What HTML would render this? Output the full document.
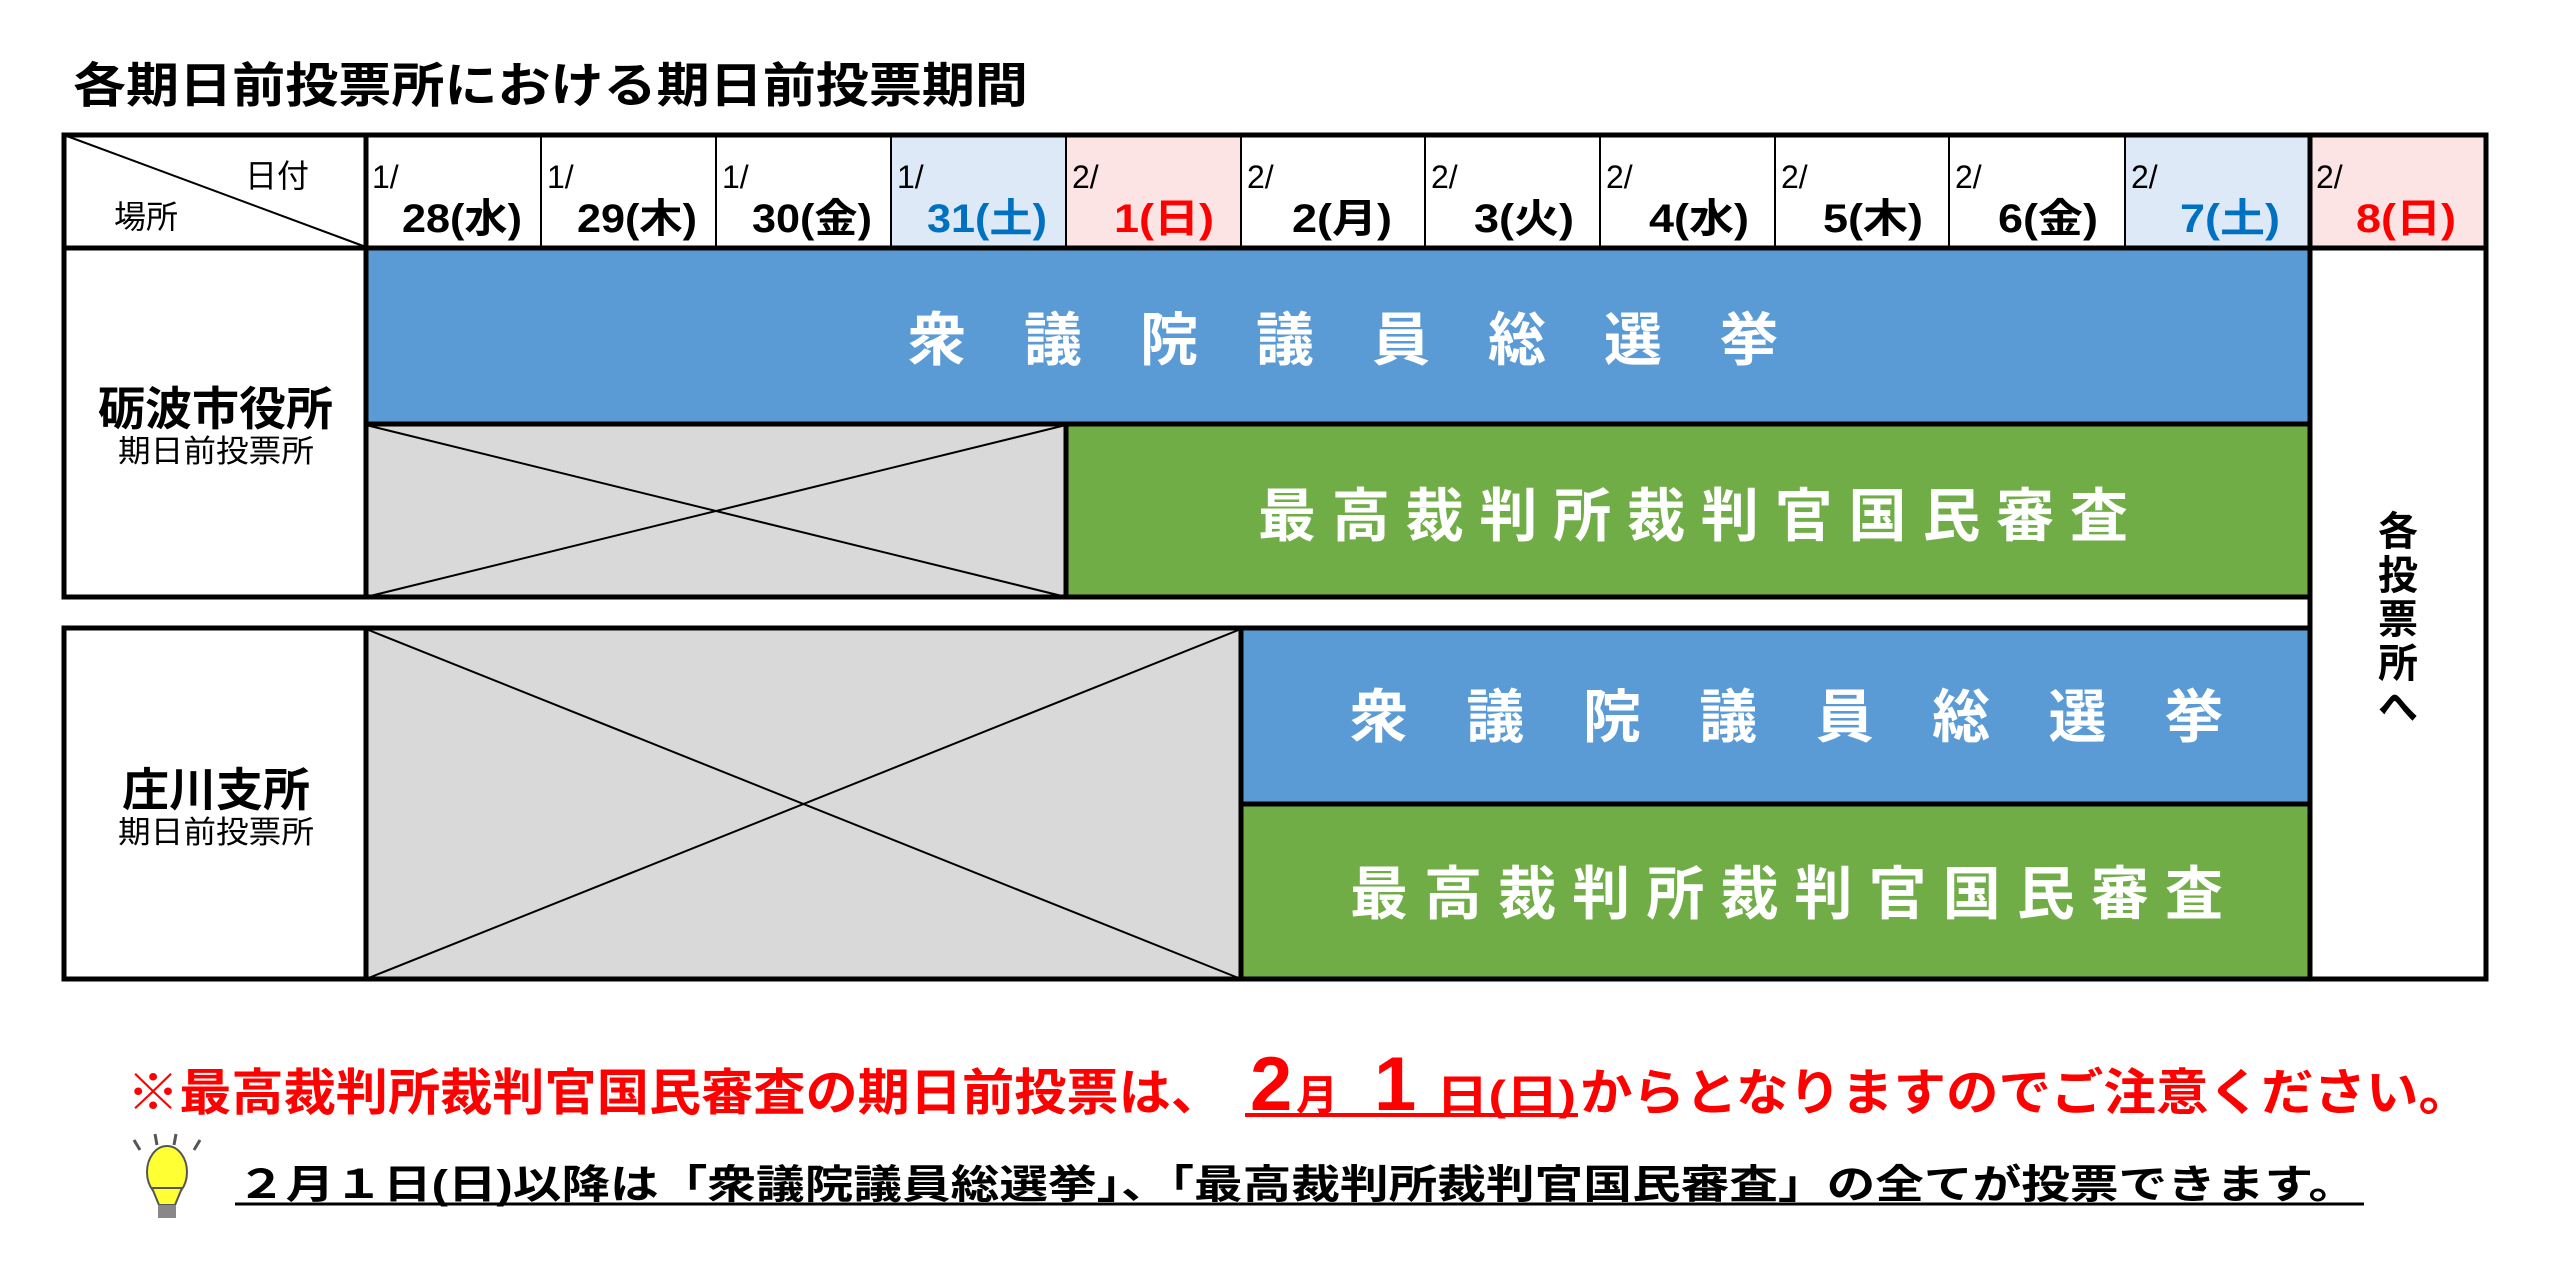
<!DOCTYPE html>
<html><head><meta charset="utf-8"><style>
html,body{margin:0;padding:0;background:#fff;}
svg{display:block;}
text{font-family:"Liberation Sans","Noto Sans CJK JP",sans-serif;}
</style></head><body>
<svg width="2560" height="1287" viewBox="0 0 2560 1287" xmlns="http://www.w3.org/2000/svg">
<rect width="2560" height="1287" fill="#fff"/>
<text x="73" y="102" font-size="48" font-weight="bold" textLength="955" lengthAdjust="spacingAndGlyphs">各期日前投票所における期日前投票期間</text>

<rect x="891" y="135" width="175" height="112" fill="#dde9f7"/>
<rect x="1066" y="135" width="175" height="112" fill="#fde4e4"/>
<rect x="2125" y="135" width="185" height="112" fill="#dde9f7"/>
<rect x="2310" y="135" width="176" height="112" fill="#fde4e4"/>

<rect x="366" y="249" width="1944" height="174" fill="#5b9bd5"/>
<rect x="366" y="425" width="700" height="172" fill="#d9d9d9"/>
<rect x="1066" y="425" width="1244" height="172" fill="#70ad47"/>
<rect x="366" y="629" width="875" height="350" fill="#d9d9d9"/>
<rect x="1241" y="629" width="1069" height="174" fill="#5b9bd5"/>
<rect x="1241" y="805" width="1069" height="174" fill="#70ad47"/>

<g stroke="#000" stroke-width="2">
<line x1="366" y1="425" x2="1066" y2="597"/><line x1="366" y1="597" x2="1066" y2="425"/>
<line x1="366" y1="629" x2="1241" y2="979"/><line x1="366" y1="979" x2="1241" y2="629"/>
<line x1="64" y1="135" x2="366" y2="247"/>
</g>

<g stroke="#000" stroke-width="2">
<line x1="541" y1="135" x2="541" y2="247"/><line x1="716" y1="135" x2="716" y2="247"/>
<line x1="891" y1="135" x2="891" y2="247"/><line x1="1066" y1="135" x2="1066" y2="247"/>
<line x1="1241" y1="135" x2="1241" y2="247"/><line x1="1425" y1="135" x2="1425" y2="247"/>
<line x1="1600" y1="135" x2="1600" y2="247"/><line x1="1775" y1="135" x2="1775" y2="247"/>
<line x1="1949" y1="135" x2="1949" y2="247"/><line x1="2125" y1="135" x2="2125" y2="247"/>
</g>

<g stroke="#000" stroke-width="5" fill="none" stroke-linecap="square">
<line x1="64" y1="135" x2="2486" y2="135"/>
<line x1="64" y1="135" x2="64" y2="597"/>
<line x1="64" y1="597" x2="2310" y2="597"/>
<line x1="64" y1="248" x2="2486" y2="248"/>
<line x1="366" y1="135" x2="366" y2="597"/>
<line x1="2310" y1="135" x2="2310" y2="979"/>
<line x1="2486" y1="135" x2="2486" y2="979"/>
<line x1="366" y1="424" x2="2310" y2="424"/>
<line x1="1066" y1="424" x2="1066" y2="597"/>
<line x1="64" y1="628" x2="2310" y2="628"/>
<line x1="64" y1="628" x2="64" y2="979"/>
<line x1="64" y1="979" x2="2486" y2="979"/>
<line x1="366" y1="628" x2="366" y2="979"/>
<line x1="1241" y1="628" x2="1241" y2="979"/>
<line x1="1241" y1="804" x2="2310" y2="804"/>
</g>

<text x="245" y="187" font-size="32">日付</text>
<text x="114" y="228" font-size="32">場所</text>

<g font-size="32">
<text x="372" y="188">1/</text><text x="547" y="188">1/</text><text x="722" y="188">1/</text><text x="897" y="188">1/</text>
<text x="1072" y="188">2/</text><text x="1247" y="188">2/</text><text x="1431" y="188">2/</text><text x="1606" y="188">2/</text>
<text x="1781" y="188">2/</text><text x="1955" y="188">2/</text><text x="2131" y="188">2/</text><text x="2316" y="188">2/</text>
</g>
<g font-size="40" font-weight="bold">
<text x="402" y="232" textLength="120" lengthAdjust="spacingAndGlyphs">28(水)</text>
<text x="577" y="232" textLength="120" lengthAdjust="spacingAndGlyphs">29(木)</text>
<text x="752" y="232" textLength="120" lengthAdjust="spacingAndGlyphs">30(金)</text>
<text x="927" y="232" textLength="120" lengthAdjust="spacingAndGlyphs" fill="#0070c0">31(土)</text>
<text x="1114" y="232" textLength="100" lengthAdjust="spacingAndGlyphs" fill="#ff0000">1(日)</text>
<text x="1292" y="232" textLength="100" lengthAdjust="spacingAndGlyphs">2(月)</text>
<text x="1474" y="232" textLength="100" lengthAdjust="spacingAndGlyphs">3(火)</text>
<text x="1649" y="232" textLength="100" lengthAdjust="spacingAndGlyphs">4(水)</text>
<text x="1823" y="232" textLength="100" lengthAdjust="spacingAndGlyphs">5(木)</text>
<text x="1998" y="232" textLength="100" lengthAdjust="spacingAndGlyphs">6(金)</text>
<text x="2180" y="232" textLength="100" lengthAdjust="spacingAndGlyphs" fill="#0070c0">7(土)</text>
<text x="2356" y="232" textLength="100" lengthAdjust="spacingAndGlyphs" fill="#ff0000">8(日)</text>
</g>

<text x="98" y="425" font-size="46" font-weight="bold" textLength="235" lengthAdjust="spacingAndGlyphs">砺波市役所</text>
<text x="118" y="462" font-size="31" textLength="196" lengthAdjust="spacingAndGlyphs">期日前投票所</text>
<text x="122" y="806" font-size="46" font-weight="bold" textLength="188" lengthAdjust="spacingAndGlyphs">庄川支所</text>
<text x="118" y="843" font-size="31" textLength="196" lengthAdjust="spacingAndGlyphs">期日前投票所</text>

<g fill="#fff" font-size="58" font-weight="bold">
<text x="908" y="360" textLength="870" lengthAdjust="spacing">衆議院議員総選挙</text>
<text x="1258" y="536" textLength="870" lengthAdjust="spacing">最高裁判所裁判官国民審査</text>
<text x="1350" y="737" textLength="873" lengthAdjust="spacing">衆議院議員総選挙</text>
<text x="1350" y="914" textLength="873" lengthAdjust="spacing">最高裁判所裁判官国民審査</text>
</g>

<g font-size="40" font-weight="bold" text-anchor="middle">
<text x="2398" y="545">各</text><text x="2398" y="589">投</text><text x="2398" y="633">票</text><text x="2398" y="677">所</text><text x="2398" y="721">へ</text>
</g>

<g fill="#ff0000" font-weight="bold">
<text x="127" y="1110" font-size="50" textLength="1096" lengthAdjust="spacingAndGlyphs">※最高裁判所裁判官国民審査の期日前投票は、</text>
<text x="1250" y="1110" font-size="76">2</text>
<text x="1296" y="1110" font-size="42">月</text>
<text x="1374" y="1110" font-size="76">1</text>
<text x="1436" y="1110" font-size="42" textLength="140" lengthAdjust="spacingAndGlyphs">日(日)</text>
<text x="1580" y="1110" font-size="50" textLength="891" lengthAdjust="spacingAndGlyphs">からとなりますのでご注意ください。</text>
</g>
<line x1="1245" y1="1115" x2="1578" y2="1115" stroke="#ff0000" stroke-width="4"/>

<g>
<ellipse cx="167" cy="1172" rx="20" ry="26" fill="#ffff33" stroke="#555" stroke-width="2"/>
<path d="M152 1188 L159 1205 L175 1205 L182 1188 Z" fill="#ffff33" stroke="#555" stroke-width="2"/>
<rect x="158" y="1205" width="18" height="13" fill="#888"/>
<g stroke="#555" stroke-width="3"><line x1="134" y1="1140" x2="140" y2="1150"/><line x1="155" y1="1134" x2="157" y2="1145"/><line x1="176" y1="1134" x2="174" y2="1145"/><line x1="200" y1="1140" x2="194" y2="1150"/></g>
</g>

<text x="237" y="1198" font-size="40" font-weight="bold" textLength="2120" lengthAdjust="spacingAndGlyphs">２月１日(日)以降は「衆議院議員総選挙」、「最高裁判所裁判官国民審査」の全てが投票できます。</text>
<line x1="235" y1="1204" x2="2364" y2="1204" stroke="#000" stroke-width="3"/>
</svg>
</body></html>
